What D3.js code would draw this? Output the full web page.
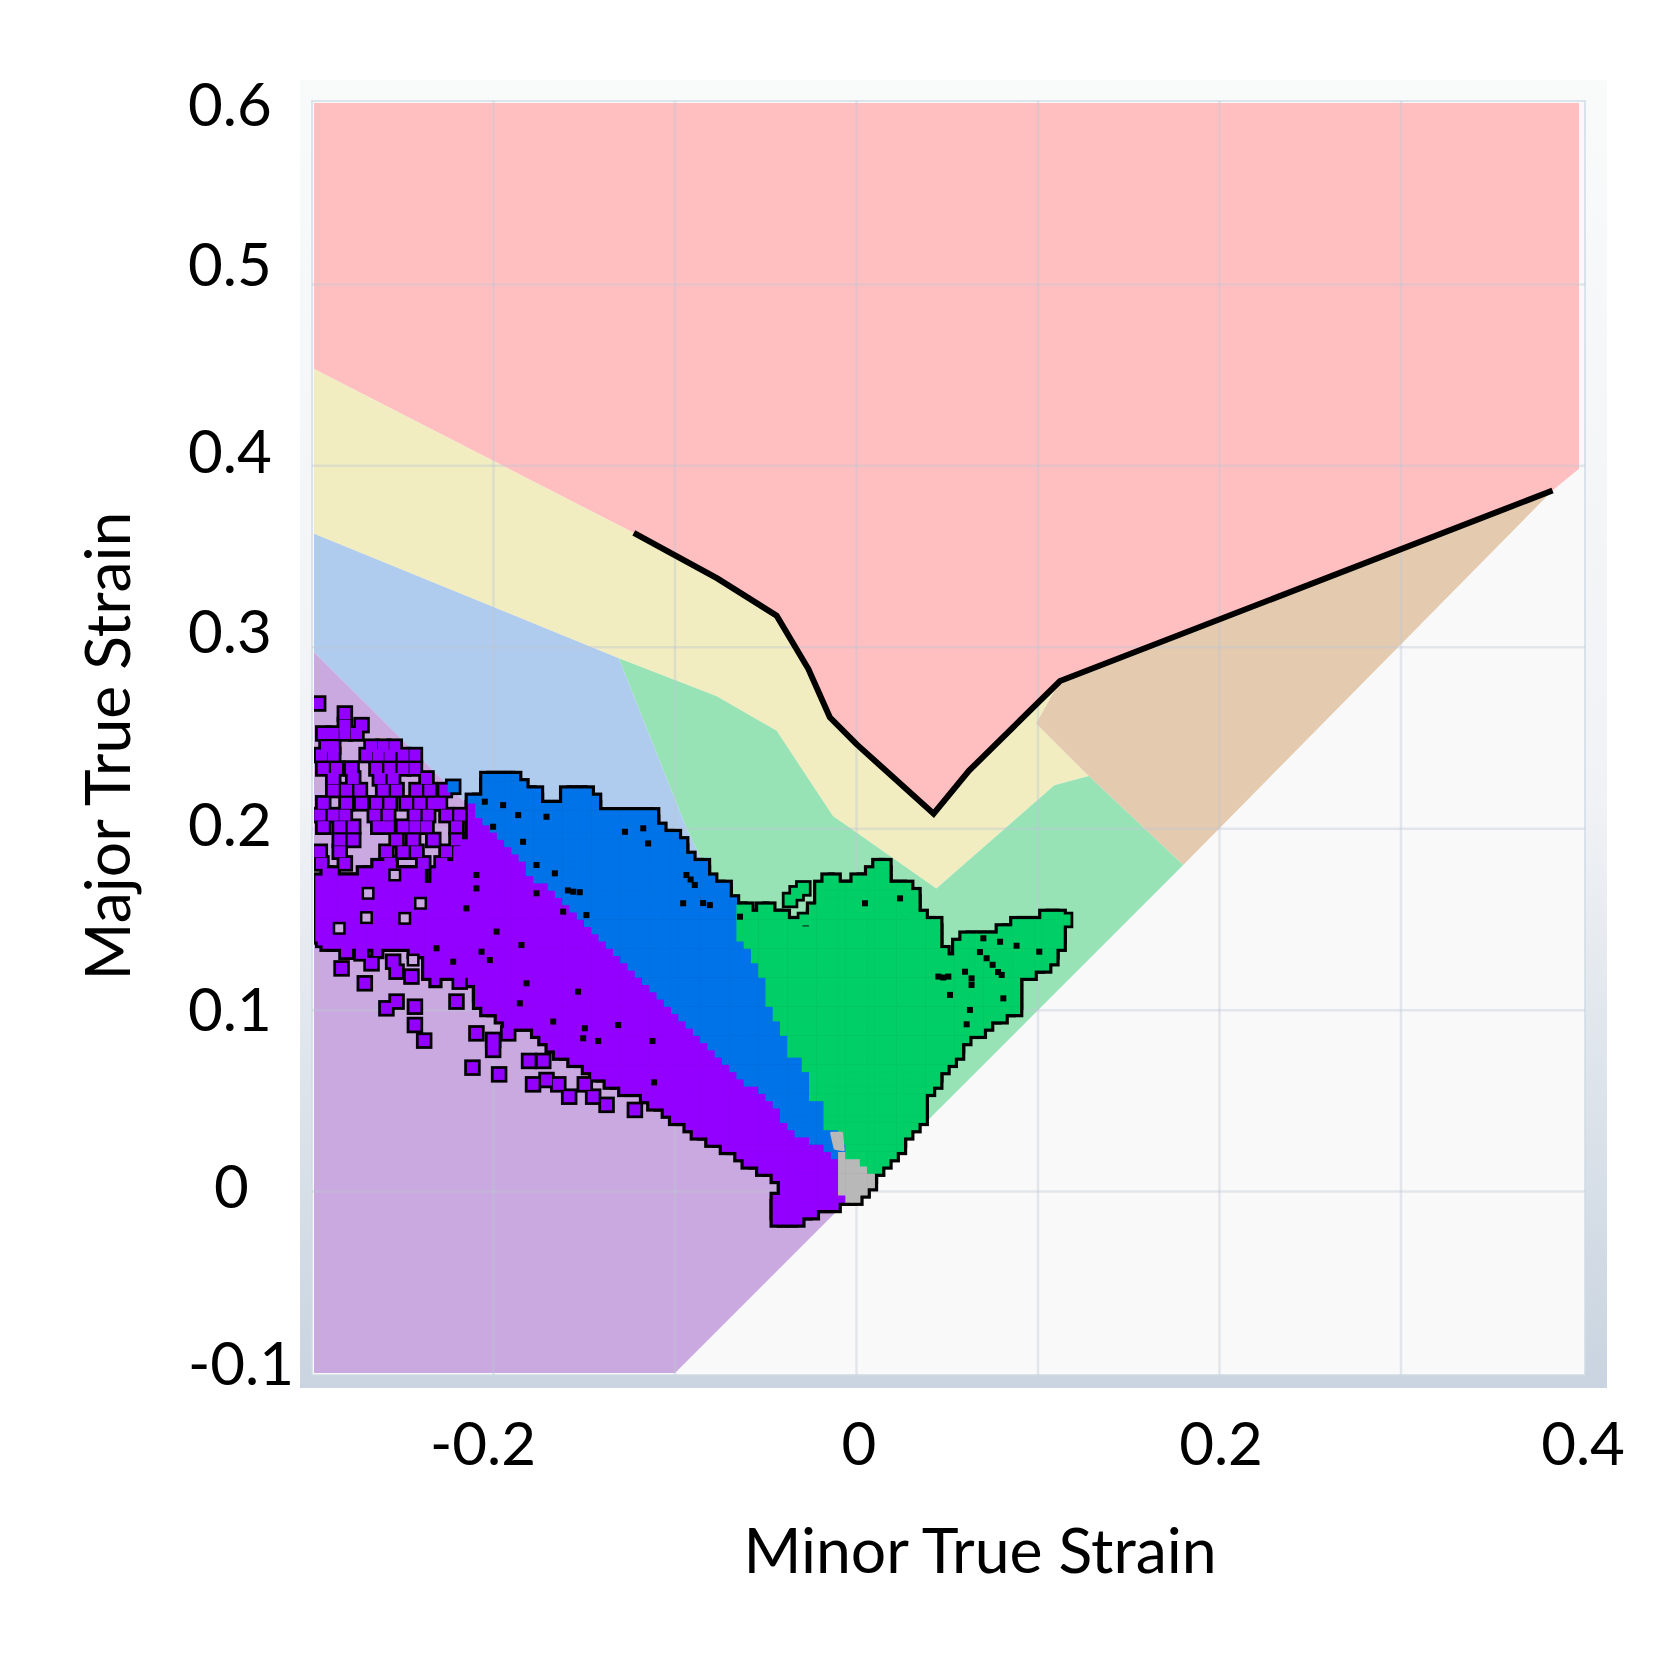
<!DOCTYPE html>
<html>
<head>
<meta charset="utf-8">
<style>
  html, body { margin: 0; background: #fff; }
  svg { display: block; }
  text { font-family: Lato, "Open Sans", sans-serif; fill: #000; }
</style>
<script src="https://cdn.jsdelivr.net/npm/d3@7.9.0/dist/d3.min.js"></script>
</head>
<body>
<svg id="chart" width="1676" height="1656"></svg>
<script>
// ticks
const xTicks = [-0.2, 0, 0.2, 0.4];
const yTicks = [-0.1, 0, 0.1, 0.2, 0.3, 0.4, 0.5, 0.6];
const xGrid = [-0.2, -0.1, 0, 0.1, 0.2, 0.3];
const yGrid = [0, 0.1, 0.2, 0.3, 0.4, 0.5];

// forming limit curve [minor, major]
const flc = [[-0.1227, 0.363], [-0.0767, 0.338], [-0.044, 0.3174], [-0.0265, 0.288], [-0.0147, 0.2614],
  [0, 0.2466], [0.0425, 0.2083], [0.0619, 0.2319], [0.1121, 0.2814], [0.3835, 0.3864]];

// zone boundaries
const failZone = [[-0.3, 0.6], [0.4, 0.6], [0.4, 0.4], [0.3835, 0.3864], [0.1121, 0.2814], [0.0619, 0.2319],
  [0.0425, 0.2083], [0, 0.2466], [-0.0147, 0.2614], [-0.0265, 0.288], [-0.044, 0.3174], [-0.0767, 0.338],
  [-0.1227, 0.363], [-0.3, 0.454]];
const marginZone = [[-0.3, 0.454], [-0.1227, 0.363], [-0.0767, 0.338], [-0.044, 0.3174], [-0.0265, 0.288],
  [-0.0147, 0.2614], [0, 0.2466], [0.0425, 0.2083], [0.0619, 0.2319], [0.1121, 0.2814], [0.099, 0.258],
  [0.128, 0.229], [0.109, 0.224], [0.044, 0.167], [-0.013, 0.207], [-0.044, 0.254], [-0.077, 0.273],
  [-0.131, 0.294], [-0.3, 0.363]];
const wrinkleZone = [[0.099, 0.258], [0.1121, 0.2814], [0.3835, 0.3864], [0.18, 0.18], [0.128, 0.229]];
const safeZone = [[-0.131, 0.294], [-0.077, 0.273], [-0.044, 0.254], [-0.013, 0.207], [0.044, 0.167],
  [0.109, 0.224], [0.128, 0.229], [0.18, 0.18], [0, 0], [-0.0944, 0.202]];
const thinZone = [[-0.3, 0.363], [-0.131, 0.294], [-0.0944, 0.202], [0, 0], [-0.3, 0.2985]];
const drawZone = [[-0.3, 0.2985], [0, 0], [-0.1, -0.1], [-0.3, -0.1]];

// outlines of the strain cloud
const blueTop = [[-0.2149, 0.2185], [-0.2075, 0.2195], [-0.2075, 0.2277], [-0.1983, 0.2287], [-0.1855, 0.2287],
  [-0.1846, 0.2241], [-0.1763, 0.2231], [-0.1754, 0.2176], [-0.1671, 0.213], [-0.1607, 0.2149], [-0.1607, 0.2204],
  [-0.1442, 0.2204], [-0.1433, 0.213], [-0.1286, 0.2084], [-0.1102, 0.2084], [-0.1084, 0.202], [-0.0964, 0.1965],
  [-0.0955, 0.1882], [-0.0826, 0.1809], [-0.0808, 0.1726], [-0.0698, 0.1699], [-0.068, 0.1616]];
const blueGreenEdge = [[-0.0651, 0.1414], [-0.0522, 0.1194], [-0.0513, 0.1102], [-0.0412, 0.09], [-0.0357, 0.0735],
  [-0.0293, 0.0716], [-0.0256, 0.0514], [-0.0192, 0.0478], [-0.0183, 0.0331], [-0.0118, 0.0321], [-0.0054, 0.022],
  [-0.0073, 0.0211]];
const bluePurpleEdge = [[-0.2149, 0.2185], [-0.2075, 0.2039], [-0.191, 0.1892], [-0.1855, 0.1855], [-0.18, 0.1745],
  [-0.1635, 0.1616], [-0.1561, 0.1543], [-0.1433, 0.1396], [-0.1212, 0.1212], [-0.1065, 0.1047], [-0.0862, 0.0836],
  [-0.0679, 0.0652], [-0.0587, 0.0588], [-0.0422, 0.0422], [-0.0339, 0.0312], [-0.0238, 0.0275], [-0.0118, 0.0165]];
const greenTop = [[-0.068, 0.1616], [-0.0587, 0.1552], [-0.0458, 0.157], [-0.0311, 0.1488], [-0.0247, 0.1451],
  [-0.0238, 0.1616], [-0.0174, 0.1726], [-0.0091, 0.1726], [-0.0036, 0.168], [-0.0036, 0.1745], [0.0074, 0.1754],
  [0.0102, 0.1809], [0.0175, 0.1809], [0.0203, 0.1699], [0.0304, 0.1699], [0.0341, 0.1598], [0.035, 0.1524],
  [0.046, 0.1515], [0.0469, 0.1341], [0.0552, 0.1276], [0.0552, 0.1396], [0.0644, 0.1423], [0.0791, 0.1442],
  [0.0892, 0.1506], [0.0974, 0.1497], [0.1039, 0.1552], [0.1121, 0.1543], [0.113, 0.1433], [0.1121, 0.135],
  [0.1085, 0.1249], [0.0974, 0.1194], [0.0882, 0.1139], [0.0882, 0.0992], [0.0791, 0.0955], [0.0717, 0.0882],
  [0.0625, 0.0845], [0.0552, 0.0744], [0.046, 0.0624], [0.0405, 0.0551], [0.0368, 0.0404], [0.0276, 0.0275],
  [0.0166, 0.0147], [0.0093, 0.0083]];
const purpleBottom = [[-0.0118, 0.0174], [-0.0073, 0.011], [-0.01, 0.0055], [-0.0063, -0.0064], [-0.0201, -0.0119],
  [-0.0311, -0.0165], [-0.044, -0.0165], [-0.044, -0.0037], [-0.0412, 0.0055], [-0.0467, 0.0092], [-0.0623, 0.0165],
  [-0.0789, 0.0275], [-0.0862, 0.0303], [-0.1102, 0.0459], [-0.1212, 0.0533], [-0.1359, 0.0588], [-0.1543, 0.0698],
  [-0.168, 0.0771], [-0.168, 0.0808], [-0.18, 0.0882], [-0.1947, 0.0918], [-0.1983, 0.0973], [-0.2094, 0.101],
  [-0.2112, 0.1157], [-0.2204, 0.1175], [-0.2332, 0.1157], [-0.2388, 0.1212], [-0.2388, 0.1451], [-0.2388, 0.1671],
  [-0.2314, 0.1781], [-0.2241, 0.1836], [-0.213, 0.1965], [-0.2149, 0.2112]];
const purpleLeft = [[-0.299, 0.1745], [-0.2883, 0.1772], [-0.281, 0.1745], [-0.27, 0.1772], [-0.259, 0.1836],
  [-0.2479, 0.1763], [-0.2369, 0.18], [-0.2369, 0.1304], [-0.2443, 0.1304], [-0.2498, 0.1359], [-0.2571, 0.1341],
  [-0.2626, 0.1304], [-0.2736, 0.1359], [-0.2865, 0.1341], [-0.2984, 0.1377]];
const greyCore = [[-0.0118, 0.0174], [-0.0073, 0.0211], [0.0001, 0.0165], [0.0093, 0.0092], [0.0102, 0.0064],
  [0.0038, -0.0037], [-0.0063, -0.0064], [-0.01, 0.0055], [-0.0073, 0.011]];
const greyBlob = [[-0.0137, 0.0321], [-0.0082, 0.0321], [-0.0073, 0.023], [-0.0118, 0.0239]];

// loose points of the cloud: [major, minors]
const purpleRows = [
  [0.269, [-0.2966]],
  [0.2635, [-0.2819]],
  [0.2571, [-0.2819, -0.2727]],
  [0.2525, [-0.2938, -0.2883, -0.2819, -0.2755]],
  [0.2452, [-0.292, -0.2883, -0.2672, -0.2608, -0.2544]],
  [0.2406, [-0.2948, -0.2883, -0.2699, -0.2635, -0.2571, -0.2498, -0.2433]],
  [0.2332, [-0.2938, -0.2865, -0.2782, -0.2645, -0.2571, -0.2498, -0.2433]],
  [0.2277, [-0.2883, -0.2773, -0.2626, -0.2553, -0.2369]],
  [0.2213, [-0.2883, -0.281, -0.2736, -0.2608, -0.2534, -0.2424, -0.2351, -0.2268]],
  [0.214, [-0.2938, -0.281, -0.2727, -0.2645, -0.2571, -0.2479, -0.2406, -0.2332, -0.2295]],
  [0.2075, [-0.2957, -0.2883, -0.2819, -0.2654, -0.258, -0.2433, -0.236, -0.2259, -0.2186]],
  [0.2011, [-0.2938, -0.2847, -0.2773, -0.2635, -0.258, -0.2498, -0.2433, -0.2369, -0.2204]],
  [0.1938, [-0.2847, -0.2773, -0.2534, -0.2443, -0.2332, -0.2204]],
  [0.1873, [-0.2957, -0.2847, -0.259, -0.2498, -0.2424, -0.2259, -0.2186]],
  [0.1809, [-0.2948, -0.2819, -0.2571, -0.2387, -0.2286]],
  [0.1387, [-0.2938]],
  [0.1322, [-0.281]],
  [0.1313, [-0.2727]],
  [0.1267, [-0.2553]],
  [0.1258, [-0.2672]],
  [0.123, [-0.2837]],
  [0.1212, [-0.2534]],
  [0.1185, [-0.2452]],
  [0.1157, [-0.2186]],
  [0.1148, [-0.2709]],
  [0.1047, [-0.2534, -0.2204]],
  [0.1019, [-0.2433]],
  [0.101, [-0.259]],
  [0.0918, [-0.2433]],
  [0.0872, [-0.2094, -0.1919]],
  [0.0836, [-0.2002]],
  [0.0832, [-0.2382]],
  [0.0781, [-0.2002]],
  [0.072, [-0.1804, -0.1726]],
  [0.0683, [-0.2116]],
  [0.0646, [-0.1969]],
  [0.0615, [-0.1708]],
  [0.0591, [-0.1782, -0.1643, -0.1497]],
  [0.0523, [-0.1583, -0.1451]],
  [0.0478, [-0.1377]],
  [0.045, [-0.1221]]
];
const bluePoints = [[-0.2222, 0.2231]];
const greenPoints = [[-0.0734, 0.1662], [-0.033, 0.1644], [-0.0293, 0.1671], [-0.0366, 0.1607], [-0.0284, 0.1497],
  [0.0249, 0.1662], [0.0276, 0.1589], [0.0313, 0.1506], [0.1149, 0.1497]];

// black specks inside the cloud
const specks = [[-0.1276, 0.1983], [-0.1175, 0.2002], [-0.1148, 0.1919], [-0.0937, 0.1745], [-0.0914, 0.172], [-0.0891, 0.169],
  [-0.0808, 0.1579], [-0.0845, 0.159], [-0.0955, 0.1589], [-0.1561, 0.1653], [-0.1525, 0.165], [-0.159, 0.166], [-0.1763, 0.1644], [-0.1662, 0.1754], [-0.1763, 0.18],
  [-0.1837, 0.1928], [-0.1864, 0.2075], [-0.1947, 0.213], [-0.2048, 0.2149], [-0.2002, 0.2011], [-0.1708, 0.2066],
  [-0.2094, 0.1671], [-0.2094, 0.1745], [-0.2149, 0.1561], [-0.1983, 0.1433], [-0.1846, 0.1359], [-0.202, 0.1276],
  [-0.2066, 0.1322], [-0.2314, 0.1341], [-0.2222, 0.1267], [-0.1818, 0.1148], [-0.1534, 0.1102], [-0.1855, 0.1038],
  [-0.1671, 0.0937], [-0.1497, 0.09], [-0.1506, 0.0845], [-0.1423, 0.083], [-0.1124, 0.083], [-0.1313, 0.0918],
  [-0.1115, 0.0602], [-0.1616, 0.1543], [-0.1488, 0.1524], [-0.0642, 0.1515], [0.0047, 0.1589], [0.0451, 0.1185], [0.0478, 0.118],
  [0.0506, 0.1185], [0.0515, 0.1084], [0.0598, 0.1212], [0.0634, 0.1139], [0.0634, 0.1175], [0.0625, 0.1001],
  [0.0607, 0.0922], [0.0791, 0.1377], [0.0882, 0.1355], [0.1007, 0.1322], [0.08, 0.1194], [0.0809, 0.1065],
  [0.0699, 0.1396], [0.0717, 0.1286], [0.075, 0.125], [0.068, 0.132], [0.078, 0.121], [0.024, 0.1616]];
// gaps in the dense part of the cloud
const gaps = [[-0.27, 0.151], [-0.285, 0.1451], [-0.2489, 0.1506], [-0.2544, 0.1745], [-0.2402, 0.1589],
  [-0.2691, 0.1644], [-0.2443, 0.1276]];

const colors = {
  fail: '#FFBFC1', margin: '#F1EDC0', wrinkle: '#E4CAAE', safe: '#98E3B6', thin: '#AFCBED', draw: '#C9A9DF',
  purple: '#9400FF', blue: '#0073E9', green: '#00CE66', grey: '#B8B8B8'
};

const x = d3.scaleLinear().domain([-0.3, 0.4]).range([312, 1582.5]);
const y = d3.scaleLinear().domain([-0.1, 0.6]).range([1373, 103]);
const cellStep = 0.004;
const cellSize = x(cellStep) - x(0);

const svg = d3.select('#chart');
const defs = svg.append('defs');

const frameGrad = defs.append('linearGradient').attr('id', 'frameGrad')
  .attr('x1', 0).attr('y1', 0).attr('x2', 0).attr('y2', 1);
frameGrad.append('stop').attr('offset', 0).attr('stop-color', '#F9FAFA');
frameGrad.append('stop').attr('offset', 0.55).attr('stop-color', '#F0F2F5');
frameGrad.append('stop').attr('offset', 1).attr('stop-color', '#C9D4E0');

defs.append('clipPath').attr('id', 'plotClip').append('rect')
  .attr('x', 314).attr('y', 103).attr('width', 1265).attr('height', 1270);

defs.append('filter').attr('id', 'soft')
  .attr('filterUnits', 'userSpaceOnUse')
  .attr('x', 280).attr('y', 60).attr('width', 1350).attr('height', 1350)
  .append('feGaussianBlur').attr('stdDeviation', 0.7);

const plot = svg.append('g').attr('filter', 'url(#soft)');

// frame
plot.append('rect').attr('x', 300).attr('y', 80).attr('width', 1307).attr('height', 1308)
  .attr('fill', 'url(#frameGrad)');
plot.append('rect').attr('x', 312).attr('y', 101).attr('width', 1273).attr('height', 1274)
  .attr('fill', '#F9F9F9').attr('stroke', 'rgba(205,218,228,0.7)').attr('stroke-width', 2);

// zones
const line = d3.line().x(d => x(d[0])).y(d => y(d[1]));
const zones = [
  { pts: failZone, fill: colors.fail },
  { pts: marginZone, fill: colors.margin },
  { pts: wrinkleZone, fill: colors.wrinkle },
  { pts: safeZone, fill: colors.safe },
  { pts: thinZone, fill: colors.thin },
  { pts: drawZone, fill: colors.draw }
];
plot.append('g').attr('clip-path', 'url(#plotClip)')
  .selectAll('path').data(zones).join('path')
  .attr('d', d => line(d.pts) + 'Z')
  .attr('fill', d => d.fill);

// grid
const grid = plot.append('g').attr('stroke', 'rgba(190,198,212,0.38)').attr('stroke-width', 2.5);
grid.selectAll('line.v').data(xGrid).join('line').attr('class', 'v')
  .attr('x1', d => x(d)).attr('x2', d => x(d)).attr('y1', 101).attr('y2', 1375);
grid.selectAll('line.h').data(yGrid).join('line').attr('class', 'h')
  .attr('y1', d => y(d)).attr('y2', d => y(d)).attr('x1', 312).attr('x2', 1585);

// cloud outlines -> pixelated cells
const bluePoly = blueTop.concat(blueGreenEdge, bluePurpleEdge.slice().reverse());
const greenPoly = greenTop.concat(blueGreenEdge.slice().reverse());
const purplePoly = bluePurpleEdge.concat(purpleBottom);
const cloudParts = [
  { poly: greyCore, fill: colors.grey },
  { poly: purplePoly, fill: colors.purple },
  { poly: purpleLeft, fill: colors.purple },
  { poly: bluePoly, fill: colors.blue },
  { poly: greenPoly, fill: colors.green }
];
const cells = [];
d3.range(-0.3, 0.13, cellStep).forEach(c => {
  d3.range(-0.02, 0.24, cellStep).forEach(m => {
    const part = cloudParts.find(p => d3.polygonContains(p.poly, [c, m]));
    if (part) cells.push({ c, m, fill: part.fill });
  });
});

const squares = [];
purpleRows.forEach(([m, minors]) => minors.forEach(c => squares.push({ c, m, fill: colors.purple })));
bluePoints.forEach(([c, m]) => squares.push({ c, m, fill: colors.blue }));
greenPoints.forEach(([c, m]) => squares.push({ c, m, fill: colors.green }));
const toBox = ([c, m]) => ({ c, m });

function addBoxes(sel, data, size, fill) {
  sel.selectAll(null).data(data).join('rect')
    .attr('x', d => x(d.c) - size / 2)
    .attr('y', d => y(d.m) - size / 2)
    .attr('width', size)
    .attr('height', size)
    .attr('fill', fill);
}

const cloud = plot.append('g').attr('clip-path', 'url(#plotClip)');
addBoxes(cloud.append('g'), cells, cellSize + 7, '#000');
addBoxes(cloud.append('g'), squares, 16.5, '#000');
addBoxes(cloud.append('g'), squares, 11, d => d.fill);
addBoxes(cloud.append('g'), cells, cellSize + 0.6, d => d.fill);

cloud.append('path').attr('d', line(greyBlob) + 'Z').attr('fill', colors.grey)
  .attr('stroke', colors.grey).attr('stroke-width', 3).attr('stroke-linejoin', 'round');

addBoxes(cloud.append('g'), specks.map(toBox), 6, '#000');
addBoxes(cloud.append('g'), gaps.map(toBox), 13, '#000');
addBoxes(cloud.append('g'), gaps.map(toBox), 8, colors.draw);

// forming limit curve
plot.append('path').attr('d', line(flc)).attr('fill', 'none')
  .attr('stroke', '#000').attr('stroke-width', 6);

// axes; the tick labels sit off the gridlines in the original
const yLabelShift = [-10, -6, -1, -5, -16, -15, -21, 1];
const xLabelShift = [-11, 2, 1, 0];
const axisY = svg.append('g')
  .attr('transform', 'translate(188,0)')
  .call(d3.axisLeft(y).tickValues(yTicks).tickSize(0).tickFormat(d => d));
axisY.select('.domain').remove();
axisY.selectAll('text')
  .attr('font-size', 60)
  .attr('text-anchor', 'start')
  .attr('x', d => d === 0 ? 26 : 0)
  .attr('dy', '0.36em')
  .attr('y', (d, i) => yLabelShift[i]);

const axisX = svg.append('g')
  .attr('transform', 'translate(0,1443)')
  .call(d3.axisBottom(x).tickValues(xTicks).tickSize(0).tickFormat(d => d));
axisX.select('.domain').remove();
axisX.selectAll('text')
  .attr('font-size', 60)
  .attr('text-anchor', 'middle')
  .attr('x', (d, i) => xLabelShift[i])
  .attr('y', 0)
  .attr('dy', '0.36em');

svg.append('text').attr('x', 980).attr('y', 1550).attr('dy', '0.36em')
  .attr('text-anchor', 'middle').attr('font-size', 62.5).text('Minor True Strain');
svg.append('text').attr('transform', 'translate(107,746) rotate(-90)').attr('dy', '0.36em')
  .attr('text-anchor', 'middle').attr('font-size', 62.5).text('Major True Strain');
</script>
</body>
</html>
